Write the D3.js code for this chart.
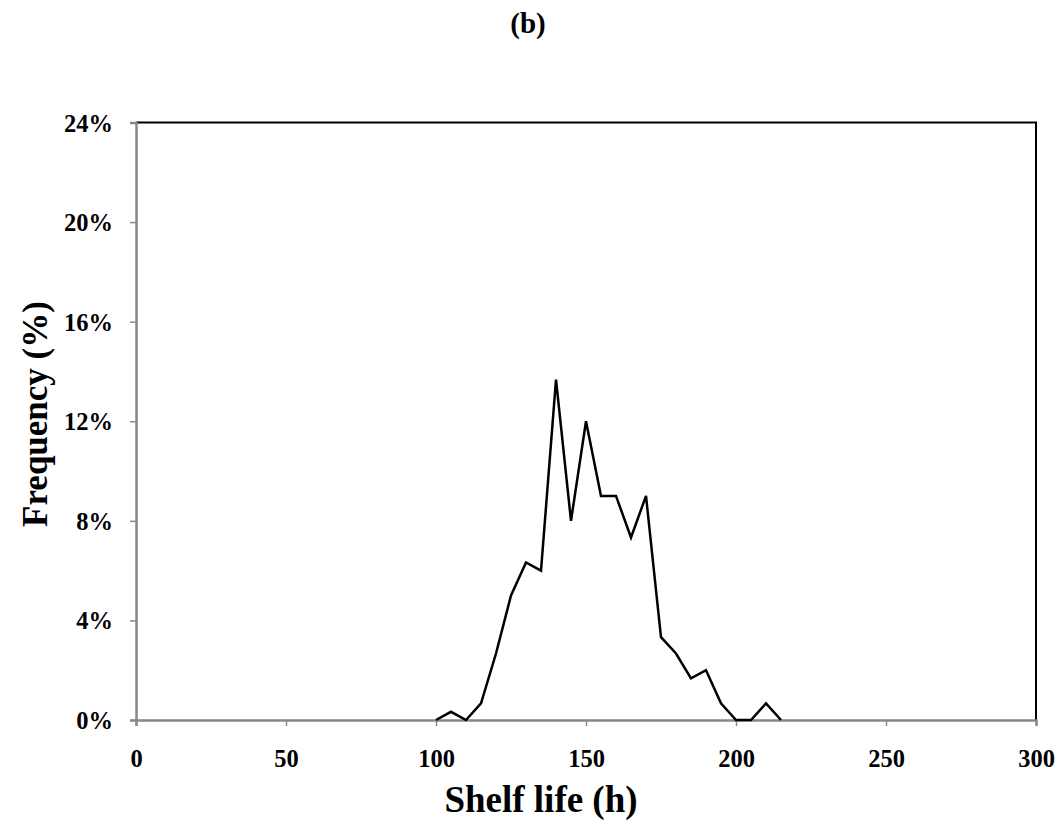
<!DOCTYPE html>
<html><head><meta charset="utf-8">
<script src="https://cdn.jsdelivr.net/npm/d3@7"></script>
<style>body{margin:0;background:#fff}svg{display:block}</style>
</head><body>
<svg id="chart" width="1060" height="821"></svg>
<script>
const shelfLife = [100,105,110,115,120,125,130,135,140,145,150,155,160,165,170,175,180,185,190,195,200,205,210,215];
const frequency = [0,0.33,0,0.67,2.67,5.0,6.33,6.0,13.67,8.0,12.0,9.0,9.0,7.33,9.0,3.33,2.67,1.67,2.0,0.67,0,0,0.67,0];
const xTicks = [0,50,100,150,200,250,300];
const yTicks = [0,4,8,12,16,20,24];
const titleText = "(b)";
const xTitle = "Shelf life (h)";
const yTitle = "Frequency (%)";

const svg = d3.select("#chart");
const L = 136, R = 1036, T = 122.5, B = 720;
const x = d3.scaleLinear().domain([0,300]).range([L,R]);
const y = d3.scaleLinear().domain([0,24]).range([B,T]);
const font = "'Liberation Serif','Times New Roman',serif";

svg.append("path").attr("d",`M${L},${T}H${R}V${B}`).attr("fill","none").attr("stroke","#000").attr("stroke-width",2);

const xa = svg.append("g").attr("transform",`translate(0,${B})`)
  .call(d3.axisBottom(x).tickValues(xTicks).tickSize(6).tickPadding(24).tickFormat(d=>d));
const ya = svg.append("g").attr("transform",`translate(${L},0)`)
  .call(d3.axisLeft(y).tickValues(yTicks).tickSize(6).tickPadding(17).tickFormat(d=>d+"%"));
[xa,ya].forEach(g=>{
  g.select(".domain").attr("stroke","#888").attr("stroke-width",2.5);
  g.selectAll(".tick line").attr("stroke","#888").attr("stroke-width",1.5);
  g.selectAll("text").style("font-family",font).style("font-weight","bold").style("font-size","24.5px").attr("fill","#000");
});
ya.selectAll("text").attr("dy","0.35em");
xa.selectAll("text").attr("dy","0.71em");

const line = d3.line().x((d,i)=>x(shelfLife[i])).y(d=>y(d));
svg.append("path").datum(frequency).attr("d",line).attr("fill","none").attr("stroke","#000").attr("stroke-width",2.5).attr("stroke-linejoin","miter");

svg.append("text").attr("x",528).attr("y",33).attr("text-anchor","middle")
  .style("font-family",font).style("font-weight","bold").style("font-size","29px").text(titleText);
svg.append("text").attr("x",541).attr("y",812).attr("text-anchor","middle")
  .style("font-family",font).style("font-weight","bold").style("font-size","37px").text(xTitle);
svg.append("text").attr("transform",`translate(47,414) rotate(-90)`).attr("text-anchor","middle")
  .style("font-family",font).style("font-weight","bold").style("font-size","35px").text(yTitle);
</script>
</body></html>
